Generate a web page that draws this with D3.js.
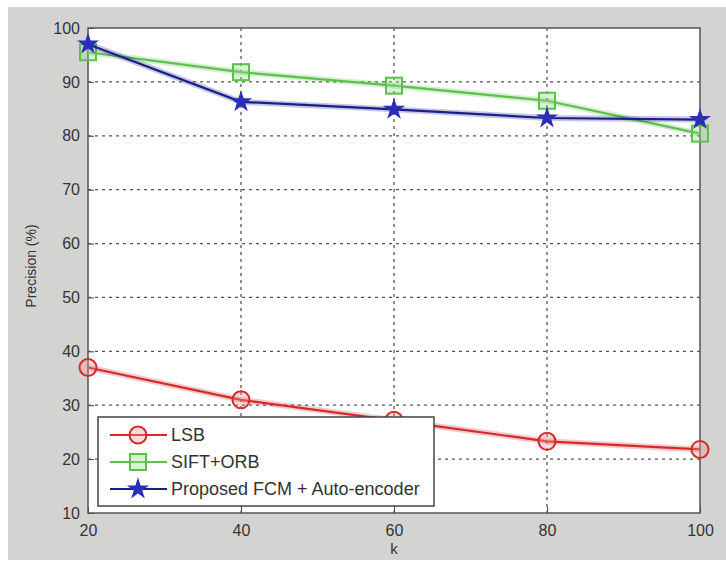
<!DOCTYPE html>
<html>
<head>
<meta charset="utf-8">
<script src="https://cdn.jsdelivr.net/npm/d3@7"></script>
<style>
  body { margin: 0; background: #fff; }
  svg { display: block; }
  text { font-family: "Liberation Sans", Arial, sans-serif; fill: #333; }
</style>
</head>
<body>
<div class="main-container"></div>
<script>
const kValues = [20, 40, 60, 80, 100];
const lsb = [37, 31, 27.2, 23.3, 21.8];
const siftOrb = [95.5, 91.8, 89.3, 86.5, 80.4];
const proposed = [97, 86.3, 84.9, 83.3, 83];
const yTicks = [10, 20, 30, 40, 50, 60, 70, 80, 90, 100];
const seriesNames = ["LSB", "SIFT+ORB", "Proposed FCM + Auto-encoder"];

let margin = {top: 28, right: 26, bottom: 48, left: 88},
  width = 726,
  height = 561,
  innerW = width - margin.left - margin.right,
  innerH = height - margin.top - margin.bottom;

const root = d3.select(".main-container")
  .append("svg")
  .attr("width", width)
  .attr("height", height);

// grey figure background
root.append("rect")
  .attr("x", 8).attr("y", 7)
  .attr("width", width - 8).attr("height", height - 8)
  .attr("fill", "#d3d3d1");

const svg = root.append("g")
  .attr("transform", "translate(" + margin.left + "," + margin.top + ")");

let x = d3.scaleLinear().domain([20, 100]).range([0, innerW]);
let y = d3.scaleLinear().domain([10, 100]).range([innerH, 0]);

svg.append("rect")
  .attr("width", innerW).attr("height", innerH)
  .attr("fill", "#fff");

// dotted grid
svg.append("g")
  .selectAll("line")
  .data(yTicks.slice(1, -1))
  .join("line")
  .attr("x1", 0).attr("x2", innerW)
  .attr("y1", d => y(d)).attr("y2", d => y(d))
  .attr("stroke", "#555").attr("stroke-width", 1.3)
  .attr("stroke-dasharray", "3,4");

svg.append("g")
  .selectAll("line")
  .data(kValues.slice(1, -1))
  .join("line")
  .attr("x1", d => x(d)).attr("x2", d => x(d))
  .attr("y1", 0).attr("y2", innerH)
  .attr("stroke", "#555").attr("stroke-width", 1.3)
  .attr("stroke-dasharray", "3,4");

// axes, ticks inward like matlab
const xAxis = svg.append("g")
  .attr("transform", "translate(0," + innerH + ")")
  .call(d3.axisBottom(x).tickValues(kValues).tickSizeInner(-6).tickSizeOuter(0).tickPadding(12));
const yAxis = svg.append("g")
  .call(d3.axisLeft(y).tickValues(yTicks).tickSizeInner(-6).tickSizeOuter(0).tickPadding(8));

[xAxis, yAxis].forEach(a => {
  a.select(".domain").remove();
  a.selectAll("line").attr("stroke", "#444");
  a.selectAll("text")
    .style("font-family", "'Liberation Sans', Arial, sans-serif")
    .style("font-size", "16px")
    .attr("fill", "#3a3a3a");
});

svg.append("rect")
  .attr("width", innerW).attr("height", innerH)
  .attr("fill", "none")
  .attr("stroke", "#555").attr("stroke-width", 1.5);

// axis labels
root.append("text")
  .attr("x", 394).attr("y", 554)
  .attr("text-anchor", "middle")
  .style("font-size", "15px")
  .text("k");

root.append("text")
  .attr("transform", "translate(36,266) rotate(-90)")
  .attr("text-anchor", "middle")
  .style("font-size", "14px")
  .text("Precision (%)");

const series = [
  {name: seriesNames[0], values: lsb, color: "#d42a2a", marker: "circle"},
  {name: seriesNames[1], values: siftOrb, color: "#5cc14a", marker: "square"},
  {name: seriesNames[2], values: proposed, color: "#1c1f8a", marker: "star"}
];

function drawMarker(g, s, cx, cy) {
  if (s.marker === "circle") {
    g.append("circle").attr("cx", cx).attr("cy", cy).attr("r", 8.5)
      .attr("fill", "rgba(240,150,150,0.35)").attr("stroke", s.color).attr("stroke-width", 2);
  } else if (s.marker === "square") {
    g.append("rect").attr("x", cx - 8).attr("y", cy - 8).attr("width", 16).attr("height", 16)
      .attr("fill", "rgba(150,220,140,0.35)").attr("stroke", s.color).attr("stroke-width", 2);
  } else {
    g.append("path")
      .attr("transform", "translate(" + cx + "," + cy + ")")
      .attr("d", d3.symbol(d3.symbolStar, 95)())
      .attr("fill", "#2a2fb8").attr("stroke", "#2a2fb8").attr("stroke-width", 1.5);
  }
}

const line = d3.line()
  .x((d, i) => x(kValues[i]))
  .y(d => y(d));

series.forEach(s => {
  // soft halo
  svg.append("path")
    .datum(s.values)
    .attr("fill", "none")
    .attr("stroke", s.color).attr("stroke-opacity", 0.25)
    .attr("stroke-width", 6)
    .attr("d", line);
  svg.append("path")
    .datum(s.values)
    .attr("fill", "none")
    .attr("stroke", s.color)
    .attr("stroke-width", 2.2)
    .attr("d", line);
  const mg = svg.append("g");
  s.values.forEach((v, i) => drawMarker(mg, s, x(kValues[i]), y(v)));
});

// legend
const legend = root.append("g").attr("transform", "translate(98,417)");
legend.append("rect")
  .attr("width", 336).attr("height", 89)
  .attr("fill", "#fff")
  .attr("stroke", "#444").attr("stroke-width", 1.5);

series.forEach((s, i) => {
  const ly = 18 + i * 27;
  const row = legend.append("g");
  row.append("line")
    .attr("x1", 12).attr("x2", 69)
    .attr("y1", ly).attr("y2", ly)
    .attr("stroke", s.color).attr("stroke-width", 2.2);
  drawMarker(row, s, 40, ly);
  row.append("text")
    .attr("x", 73).attr("y", ly + 6)
    .style("font-size", "18px")
    .attr("fill", "#333")
    .text(s.name);
});
</script>
</body>
</html>
